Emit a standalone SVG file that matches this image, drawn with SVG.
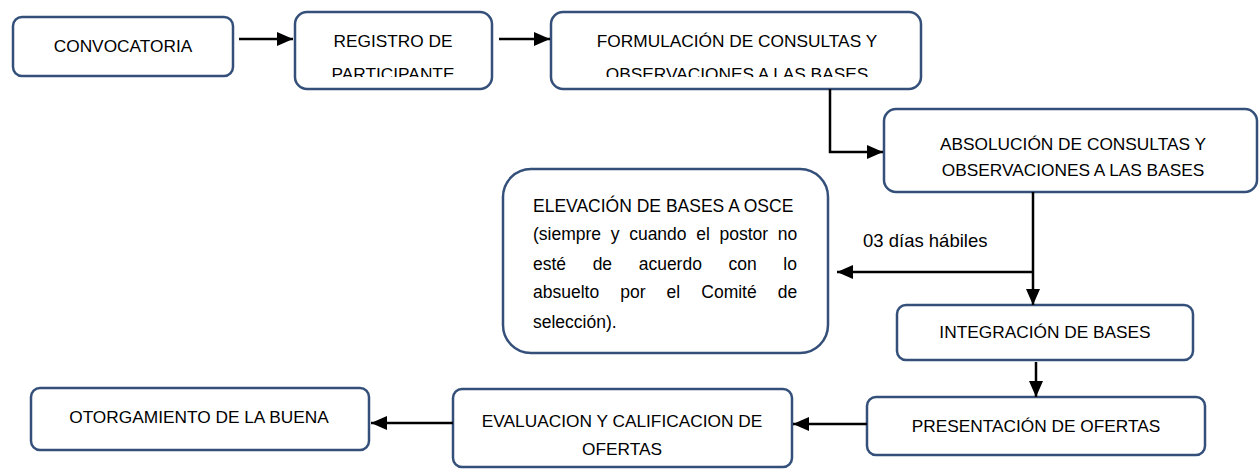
<svg xmlns="http://www.w3.org/2000/svg" width="1259" height="470" viewBox="0 0 1259 470">
<style>
.box{fill:#fff;stroke:#34507a;stroke-width:2.5}
.t{font-family:"Liberation Sans",Arial,sans-serif;font-size:17.3px;fill:#000}
.p{font-size:17.5px}
.c{text-anchor:middle}
.ln{fill:none;stroke:#000;stroke-width:2.5}
</style>
<defs>
<marker id="ah" markerUnits="userSpaceOnUse" markerWidth="17" markerHeight="14" refX="16" refY="7" orient="auto">
<path d="M0,0 L16,7 L0,14 z" fill="#000"/>
</marker>
<clipPath id="clipTop"><rect x="0" y="0" width="1259" height="77"/></clipPath>
</defs>
<rect width="1259" height="470" fill="#fff"/>

<g id="n1">
<rect class="box" x="13" y="17" width="220" height="59" rx="9"/>
<text class="t c" x="123" y="52">CONVOCATORIA</text>
</g>
<g id="n2">
<rect class="box" x="295" y="12" width="197" height="77" rx="12"/>
<g clip-path="url(#clipTop)">
<text class="t c" x="393" y="47">REGISTRO DE</text>
<text class="t c" x="393" y="80">PARTICIPANTE</text>
</g>
</g>
<g id="n3">
<rect class="box" x="551" y="12" width="370" height="77" rx="12"/>
<g clip-path="url(#clipTop)">
<text class="t c" x="737" y="47">FORMULACIÓN DE CONSULTAS Y</text>
<text class="t c" x="737" y="80">OBSERVACIONES A LAS BASES</text>
</g>
</g>
<g id="n4">
<rect class="box" x="884" y="109" width="373" height="83" rx="12"/>
<text class="t c" x="1073" y="150">ABSOLUCIÓN DE CONSULTAS Y</text>
<text class="t c" x="1073" y="176">OBSERVACIONES A LAS BASES</text>
</g>
<g id="n5">
<rect class="box" x="503" y="169" width="325" height="184" rx="28"/>
<text class="t p" x="533" y="212">ELEVACIÓN DE BASES A OSCE</text>
<text class="t p" x="533" y="240" word-spacing="4.8">(siempre y cuando el postor no</text>
<text class="t p" x="533" y="270" word-spacing="21.7">esté de acuerdo con lo</text>
<text class="t p" x="533" y="298" word-spacing="16.2">absuelto por el Comité de</text>
<text class="t p" x="533" y="328">selección).</text>
</g>
<g id="n6">
<rect class="box" x="897" y="305" width="296" height="55" rx="9"/>
<text class="t c" x="1045" y="338">INTEGRACIÓN DE BASES</text>
</g>
<g id="n7">
<rect class="box" x="867" y="397" width="338" height="58" rx="9"/>
<text class="t c" x="1036" y="432">PRESENTACIÓN DE OFERTAS</text>
</g>
<g id="n8">
<rect class="box" x="453" y="389" width="339" height="78" rx="9"/>
<text class="t c" x="622" y="427">EVALUACION Y CALIFICACION DE</text>
<text class="t c" x="622" y="455">OFERTAS</text>
</g>
<g id="n9">
<rect class="box" x="31" y="388" width="338" height="62" rx="9"/>
<text class="t c" x="199" y="423">OTORGAMIENTO DE LA BUENA</text>
</g>

<g id="connectors">
<line class="ln" x1="239" y1="39" x2="293" y2="39" marker-end="url(#ah)"/>
<line class="ln" x1="499" y1="39" x2="550" y2="39" marker-end="url(#ah)"/>
<polyline class="ln" points="830,89 830,152 883,152" marker-end="url(#ah)"/>
<line class="ln" x1="1033" y1="192" x2="1033" y2="305" marker-end="url(#ah)"/>
<line class="ln" x1="1033" y1="272" x2="837" y2="272" marker-end="url(#ah)"/>
<line class="ln" x1="1036" y1="362" x2="1036" y2="397" marker-end="url(#ah)"/>
<line class="ln" x1="867" y1="424" x2="793" y2="424" marker-end="url(#ah)"/>
<line class="ln" x1="453" y1="423" x2="371" y2="423" marker-end="url(#ah)"/>
<text class="t" x="863" y="247" font-size="18.5" style="font-size:18.5px">03 días hábiles</text>
</g>
</svg>
